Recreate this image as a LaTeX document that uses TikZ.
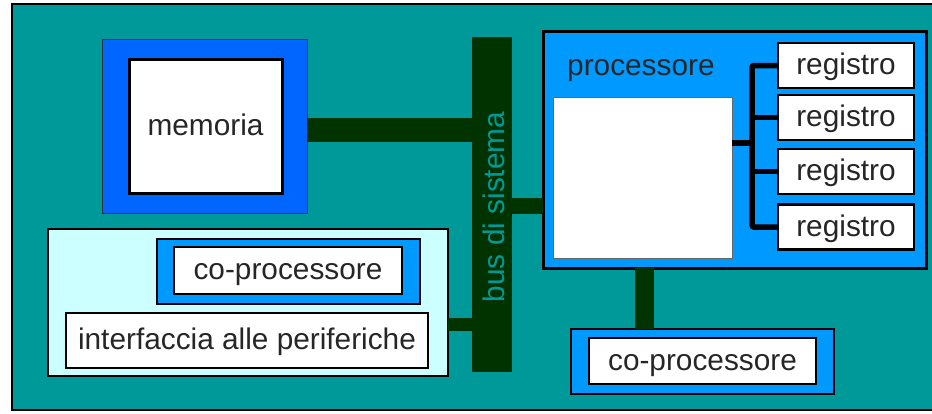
\documentclass[tikz,border=0pt]{standalone}
\usepackage{fontspec}
\setmainfont{Liberation Sans}
\definecolor{tealbg}{HTML}{009999}
\definecolor{memblue}{HTML}{0066FF}
\definecolor{procblue}{HTML}{0099FF}
\definecolor{cyanbg}{HTML}{CCFFFF}
\definecolor{busgreen}{HTML}{003300}
\definecolor{txt}{HTML}{262626}
\begin{document}
\begin{tikzpicture}[x=1pt,y=-1pt,
  box/.style={rectangle, inner sep=0pt, outer sep=0pt},
  lbl/.style={font=\fontsize{29.8}{34}\selectfont, text=txt, text height=22pt, text depth=4pt},
  whitebox/.style={box, fill=white, draw=black, line width=2.5pt},
  bluebox/.style={box, fill=procblue, draw=black, line width=2pt},
  bar/.style={draw=busgreen},
  rline/.style={draw=black, line width=5.5pt}]
\useasboundingbox (0,0) rectangle (932,413);
\clip (0,0) rectangle (932,413);
% background panel
\node[box, fill=tealbg, draw=black, line width=2pt, minimum width=930pt, minimum height=406pt] (bg) at (477,207) {};
% bus
\node[box, fill=busgreen, minimum width=40pt, minimum height=335pt] (bus) at (492,204.5) {};
\node[font=\fontsize{29.8}{34}\selectfont, text=tealbg, rotate=90] (bustxt) at (494,207) {bus di sistema};
% memory
\node[box, fill=memblue, draw=black!80, line width=1pt, minimum width=205pt, minimum height=174pt] (memout) at (204.5,126) {};
\node[whitebox, line width=3pt, minimum width=153pt, minimum height=134pt, lbl] (memin) at (205.5,126) {memoria};
% processor
\node[box, fill=procblue, draw=black, line width=3pt, minimum width=383pt, minimum height=237pt] (proc) at (734.5,149.5) {};
\node[font=\fontsize{29.8}{34}\selectfont, text=txt, anchor=base west, inner sep=0pt] (plabel) at (567,75) {processore};
\node[box, fill=white, draw=black!60, line width=1pt, minimum width=179pt, minimum height=161pt] (cpu) at (642.5,177.5) {};
\node[whitebox, minimum width=136pt, minimum height=45pt, lbl] (reg1) at (846,65.5) {registro};
\node[whitebox, minimum width=136pt, minimum height=45pt, lbl] (reg2) at (846,117.5) {registro};
\node[whitebox, minimum width=136pt, minimum height=45pt, lbl] (reg3) at (846,171.5) {registro};
\node[whitebox, minimum width=136pt, minimum height=45pt, lbl] (reg4) at (846,227) {registro};
% bottom co-processor
\node[bluebox, minimum width=263pt, minimum height=65pt] (cop) at (702.5,361.5) {};
\node[whitebox, minimum width=227pt, minimum height=46pt, lbl] (copin) at (702.5,361) {co-processore};
% left panel
\node[box, fill=cyanbg, draw=black, line width=2pt, minimum width=400pt, minimum height=147pt] (panel) at (248,302.5) {};
\node[bluebox, minimum width=263pt, minimum height=65pt] (lcop) at (288.5,271.5) {};
\node[whitebox, minimum width=228pt, minimum height=47pt, lbl] (lcopin) at (288,270.5) {co-processore};
\node[whitebox, line width=2pt, minimum width=362pt, minimum height=55pt, lbl] (iface) at (247,340.5) {interfaccia alle periferiche};
% bus connections
\draw[bar, line width=24pt] (memout.east |- 0,130) -- (bus.west |- 0,130);
\draw[bar, line width=16pt] (bus.east |- 0,206) -- (proc.west |- 0,206);
\draw[bar, line width=13pt] (panel.east |- 0,324.5) -- (bus.west |- 0,324.5);
\draw[bar, line width=19pt] (proc.south -| 644.5,0) -- (cop.north -| 644.5,0);
% register connections
\coordinate (rv) at (752,150);
\draw[rline, rounded corners=2pt] (reg1.west) -| (rv) |- (reg4.west);
\draw[rline] (reg2.west) -- (reg2.west -| rv);
\draw[rline] (reg3.west) -- (reg3.west -| rv);
\draw[rline] (cpu.east |- 0,143) -- (rv |- 0,143);
\end{tikzpicture}
\end{document}
